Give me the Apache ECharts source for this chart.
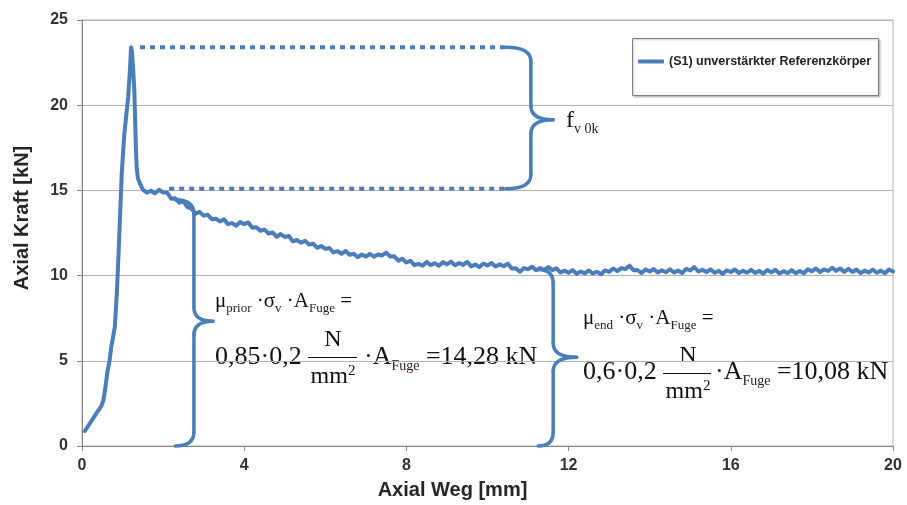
<!DOCTYPE html>
<html><head><meta charset="utf-8">
<script src="https://cdn.jsdelivr.net/npm/echarts@6/dist/echarts.min.js"></script>
<style>html,body{margin:0;padding:0;background:#fff}#c{width:907px;height:505px}</style>
</head><body><div id="c"></div>
<script>
// ---- data ----
const seriesName = '(S1) unverstärkter Referenzkörper';
const wegMm = [
 0.07,0.2,0.35,0.48,0.53,0.58,0.63,0.68,0.72,0.76,0.81,0.86,0.9,0.94,0.98,1.04,1.1,1.14,1.18,1.21,
 1.23,1.26,1.29,1.31,1.33,1.35,1.38,1.43,
 1.5,1.6,1.7,1.8,1.9,2.0,2.1,2.2,2.3,2.4,2.5,2.6,2.7,2.8,2.9,3.0,3.1,3.2,3.3,3.4,3.5,3.6,3.7,3.8,3.9,4.0,
 4.1,4.2,4.3,4.4,4.5,4.6,4.7,4.8,4.9,5.0,5.1,5.2,5.3,5.4,5.5,5.6,5.7,5.8,5.9,6.0,
 6.1,6.2,6.3,6.4,6.5,6.6,6.7,6.8,6.9,7.0,7.1,7.2,7.3,7.4,7.5,7.6,7.7,7.8,7.9,8.0,
 8.1,8.2,8.3,8.4,8.5,8.6,8.7,8.8,8.9,9.0,9.1,9.2,9.3,9.4,9.5,9.6,9.7,9.8,9.9,10.0,
 10.1,10.2,10.3,10.4,10.5,10.6,10.7,10.8,10.9,11.0,11.1,11.2,11.3,11.4,11.5,11.6,11.7,11.8,11.9,12.0,
 12.1,12.2,12.3,12.4,12.5,12.6,12.7,12.8,12.9,13.0,13.1,13.2,13.3,13.4,13.5,13.6,13.7,13.8,13.9,14.0,
 14.1,14.2,14.3,14.4,14.5,14.6,14.7,14.8,14.9,15.0,15.1,15.2,15.3,15.4,15.5,15.6,15.7,15.8,15.9,16.0,
 16.1,16.2,16.3,16.4,16.5,16.6,16.7,16.8,16.9,17.0,17.1,17.2,17.3,17.4,17.5,17.6,17.7,17.8,17.9,18.0,
 18.1,18.2,18.3,18.4,18.5,18.6,18.7,18.8,18.9,19.0,19.1,19.2,19.3,19.4,19.5,19.6,19.7,19.8,19.9,20.0
];
const kraftKN = [
 0.88,1.35,1.9,2.35,2.7,3.5,4.4,5.0,5.8,6.3,7.0,9.0,11.2,13.6,16.0,18.2,19.6,20.5,22.0,23.4,
 23.2,22.2,20.9,19.2,17.4,16.3,15.7,15.4,
 15.05,14.87,14.98,14.83,15.04,14.87,14.87,14.51,14.54,14.28,14.35,14.02,13.93,13.63,13.74,13.52,13.57,13.31,13.34,13.18,13.3,13.02,13.08,12.93,13.14,13.02,
 13.12,12.81,12.84,12.63,12.7,12.47,12.53,12.28,12.44,12.27,12.32,12.01,12.09,11.93,12.05,11.82,11.88,11.63,11.74,11.57,
 11.62,11.36,11.44,11.28,11.45,11.22,11.28,11.08,11.24,11.12,11.27,11.11,11.24,11.18,11.35,11.12,11.13,10.88,10.99,10.77,
 10.87,10.61,10.69,10.58,10.8,10.62,10.73,10.58,10.79,10.67,10.82,10.61,10.74,10.63,10.8,10.54,10.65,10.5,10.71,10.59,
 10.74,10.53,10.66,10.55,10.7,10.42,10.43,10.23,10.44,10.37,10.52,10.31,10.44,10.33,10.5,10.32,10.43,10.18,10.29,10.17,
 10.32,10.11,10.24,10.13,10.3,10.12,10.23,10.08,10.31,10.22,10.42,10.26,10.44,10.38,10.58,10.32,10.33,10.15,10.36,10.24,
 10.39,10.18,10.31,10.2,10.37,10.19,10.3,10.15,10.39,10.3,10.5,10.24,10.34,10.21,10.37,10.17,10.28,10.1,10.31,10.21,
 10.36,10.15,10.28,10.17,10.34,10.16,10.27,10.12,10.33,10.19,10.34,10.13,10.26,10.15,10.32,10.14,10.27,10.14,10.37,10.25,
 10.42,10.21,10.36,10.27,10.46,10.28,10.41,10.22,10.39,10.21,10.36,10.15,10.29,10.18,10.35,10.17,10.29,10.14,10.36,10.24
];
const xTicks = [0, 4, 8, 12, 16, 20];
const yTicks = [0, 5, 10, 15, 20, 25];
// dotted reference levels (kN) and their x extents (mm)
const levelKN     = [23.4, 15.1];
const levelStartX = [1.43, 2.15];
const levelEndX   = [10.45, 10.45];
// curly braces: end x, vertical x, tip x, top y, tip y, bottom y
const braceEndX  = [10.45, 2.3, 11.25];
const braceLineX = [11.07, 2.76, 11.62];
const braceTipX  = [11.62, 3.23, 12.2];
const braceTopY  = [23.4, 14.45, 10.36];
const braceTipY  = [19.15, 7.32, 5.21];
const braceBotY  = [15.1, 0, 0];

// ---- chart ----
const lineColor = '#4a7ebb';
const chart = echarts.init(document.getElementById('c'));
const curve = wegMm.map((x, i) => [x, kraftKN[i]]);
const levelSeries = levelKN.map((v, i) => ({
  type: 'line', name: 'level' + i, silent: true, showSymbol: false, symbol: 'none',
  data: [[levelStartX[i], v], [levelEndX[i], v]],
  lineStyle: { color: lineColor, width: 4, type: [5, 5], cap: 'butt' }, z: 3
}));
const braceData = braceEndX.map((x, i) => [x, braceLineX[i], braceTipX[i], braceTopY[i], braceTipY[i], braceBotY[i]]);

const serif = 'Liberation Serif';
const sans = 'Liberation Sans';
function rich1(big, small, drop) {
  return {
    m: { fontFamily: serif, fontSize: big, fill: '#111' },
    s: { fontFamily: serif, fontSize: small, fill: '#2a1a1a', padding: [drop, 0, 0, 0] },
    p: { fontFamily: serif, fontSize: small + 1, fill: '#111', padding: [0, 0, drop - 4, 0] }
  };
}
function txt(x, y, text, rich, align) {
  return { type: 'text', x: x, y: y, silent: true,
    style: { text: text, rich: rich, align: align || 'left', verticalAlign: 'middle', fill: '#111', fontFamily: serif } };
}
function hline(x1, x2, y) {
  return { type: 'line', silent: true, shape: { x1: x1, y1: y, x2: x2, y2: y }, style: { stroke: '#111', lineWidth: 1 } };
}
const r1 = rich1(21, 13, 16);
const r2 = rich1(26, 14, 18);
const rF = rich1(24, 14, 16);
const graphics = [
  { type: 'rect', silent: true, shape: { x: 632.5, y: 38.5, width: 246, height: 57 },
    style: { fill: '#fff', stroke: '#7f7f7f', lineWidth: 1, shadowColor: 'rgba(0,0,0,0.25)', shadowBlur: 2, shadowOffsetX: 1, shadowOffsetY: 1 }, z: -1 },
  txt(566, 121, '{m|f}{s|v 0k}', rF),
  // formula 1
  txt(215, 301, '{m|μ}{s|prior}{m| ·σ}{s|v}{m| ·A}{s|Fuge}{m| =}', r1),
  txt(215, 357, '{m|0,85·0,2}', r2),
  txt(333, 340, '{m|N}', rF, 'center'),
  hline(308, 357, 357.5),
  txt(333, 377, '{m|mm}{p|2}', rF, 'center'),
  txt(364, 357, '{m|·A}{s|Fuge}{m| =14,28 kN}', r2),
  // formula 2
  txt(583, 318, '{m|μ}{s|end}{m| ·σ}{s|v}{m| ·A}{s|Fuge}{m| =}', r1),
  txt(583, 372, '{m|0,6·0,2}', r2),
  txt(688, 356, '{m|N}', rF, 'center'),
  hline(663, 711, 373.5),
  txt(688, 392, '{m|mm}{p|2}', rF, 'center'),
  txt(715, 372, '{m|·A}{s|Fuge}{m| =10,08 kN}', r2)
];

const axisGray = '#868686';
const labelStyle = { fontFamily: sans, fontWeight: 'bold', fontSize: 16, color: '#333' };
const option = {
  animation: false,
  grid: { left: 82, right: 14, top: 20, bottom: 58, show: true, borderColor: '#b3b3b3', borderWidth: 1 },
  xAxis: {
    type: 'value', min: xTicks[0], max: xTicks[xTicks.length - 1], interval: xTicks[1] - xTicks[0],
    axisLine: { show: true, onZero: false, lineStyle: { color: axisGray, width: 1 } },
    axisTick: { show: true, length: 5, lineStyle: { color: axisGray } },
    splitLine: { show: false },
    axisLabel: Object.assign({ margin: 12 }, labelStyle),
    name: 'Axial Weg [mm]', nameLocation: 'middle', nameGap: 34,
    nameTextStyle: { fontFamily: sans, fontWeight: 'bold', fontSize: 20, color: '#262626', padding: [0, 70, 0, 0] }
  },
  yAxis: {
    type: 'value', min: yTicks[0], max: yTicks[yTicks.length - 1], interval: yTicks[1] - yTicks[0],
    axisLine: { show: true, onZero: false, lineStyle: { color: axisGray, width: 1 } },
    axisTick: { show: true, length: 5, lineStyle: { color: axisGray } },
    splitLine: { show: true, lineStyle: { color: '#b3b3b3', width: 1 } },
    axisLabel: Object.assign({ margin: 14 }, labelStyle),
    name: 'Axial Kraft [kN]', nameLocation: 'middle', nameGap: 50,
    nameTextStyle: { fontFamily: sans, fontWeight: 'bold', fontSize: 20, color: '#262626', padding: [0, 0, 0, 30] }
  },
  legend: {
    data: [seriesName], left: 638, top: 55, padding: 0, itemWidth: 26, itemHeight: 4, icon: 'roundRect',
    textStyle: { fontFamily: sans, fontWeight: 'bold', fontSize: 12.5, color: '#222' }, selectedMode: false
  },
  graphic: { elements: graphics },
  series: [
    {
      type: 'custom', name: 'braces', coordinateSystem: 'cartesian2d', silent: true, clip: false,
      data: braceData, encode: { x: [0, 1, 2], y: [3, 4, 5] }, z: 3,
      renderItem: function (params, api) {
        const top = api.coord([api.value(0), api.value(3)]);
        const vx = api.coord([api.value(1), api.value(3)])[0];
        const tip = api.coord([api.value(2), api.value(4)]);
        const bot = api.coord([api.value(0), api.value(5)]);
        const r = 14;
        const st = { stroke: lineColor, lineWidth: 3.5, fill: null, lineCap: 'round' };
        const ym = tip[1];
        return { type: 'group', children: [
          { type: 'bezierCurve', shape: { x1: top[0], y1: top[1], cpx1: vx, cpy1: top[1], x2: vx, y2: top[1] + r }, style: st },
          { type: 'line', shape: { x1: vx, y1: top[1] + r, x2: vx, y2: ym - r }, style: st },
          { type: 'bezierCurve', shape: { x1: vx, y1: ym - r, cpx1: vx, cpy1: ym, x2: tip[0], y2: ym }, style: st },
          { type: 'bezierCurve', shape: { x1: tip[0], y1: ym, cpx1: vx, cpy1: ym, x2: vx, y2: ym + r }, style: st },
          { type: 'line', shape: { x1: vx, y1: ym + r, x2: vx, y2: bot[1] - r }, style: st },
          { type: 'bezierCurve', shape: { x1: vx, y1: bot[1] - r, cpx1: vx, cpy1: bot[1], x2: bot[0], y2: bot[1] }, style: st }
        ]};
      }
    }
  ].concat(levelSeries).concat([
    {
      type: 'line', name: seriesName, data: curve, showSymbol: false, symbol: 'none',
      lineStyle: { color: lineColor, width: 4, join: 'round', cap: 'round' },
      itemStyle: { color: lineColor }, z: 4
    }
  ])
};
chart.setOption(option);
</script>
</body></html>
